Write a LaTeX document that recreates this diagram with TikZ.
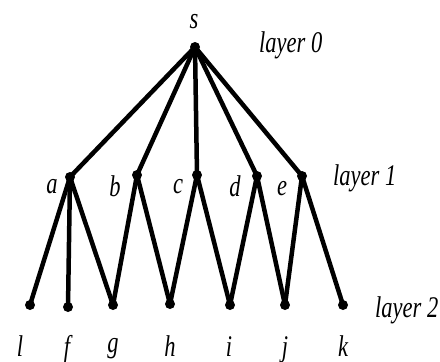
\documentclass[tikz,border=0pt]{standalone}
\usepackage{fontspec}
\setmainfont{Liberation Serif}
\newfontfamily\labfont[FakeStretch=0.75]{Liberation Serif}
\begin{document}
\begin{tikzpicture}[x=1pt,y=-1pt,
  vtx/.style={circle,fill=black,inner sep=0pt,minimum size=10pt},
  lab/.style={font=\labfont\fontsize{30}{34}\selectfont\itshape,inner sep=0pt,anchor=base},
  edge/.style={line width=4.5pt}]
\useasboundingbox (0,0) rectangle (440,362);
\node[vtx] (s) at (195,47) {};
\node[vtx] (a) at (70,177) {};
\node[vtx] (b) at (137,175) {};
\node[vtx] (c) at (197,175) {};
\node[vtx] (d) at (257,176) {};
\node[vtx] (e) at (302,176) {};
\node[vtx] (l) at (30,305) {};
\node[vtx] (f) at (68,307) {};
\node[vtx] (g) at (113,305) {};
\node[vtx] (h) at (170,304) {};
\node[vtx] (i) at (230,305) {};
\node[vtx] (j) at (285,305) {};
\node[vtx] (k) at (343,305) {};
\foreach \u/\v in {s/a,s/b,s/c,s/d,s/e,a/l,a/f,a/g,b/g,b/h,c/h,c/i,d/i,d/j,e/j,e/k}
  \draw[edge] (\u.center) -- (\v.center);
\node[lab] (ls) at (194,28) {s};
\node[lab] (la) at (52,193) {a};
\node[lab] (lb) at (115,196) {b};
\node[lab] (lc) at (178,193) {c};
\node[lab] (ld) at (235,196) {d};
\node[lab] (le) at (282,195) {e};
\node[lab] (ll) at (20,356) {l};
\node[lab] (lf) at (67,356) {f};
\node[lab] (lg) at (113,352) {g};
\node[lab] (lh) at (170,356) {h};
\node[lab] (li) at (229,356) {i};
\node[lab] (lj) at (285,356) {j};
\node[lab] (lk) at (343,356) {k};
\node[lab,anchor=base west] (l0) at (259,52) {layer 0};
\node[lab,anchor=base west] (l1) at (333,185) {layer 1};
\node[lab,anchor=base west] (l2) at (375,317) {layer 2};
\end{tikzpicture}
\end{document}
